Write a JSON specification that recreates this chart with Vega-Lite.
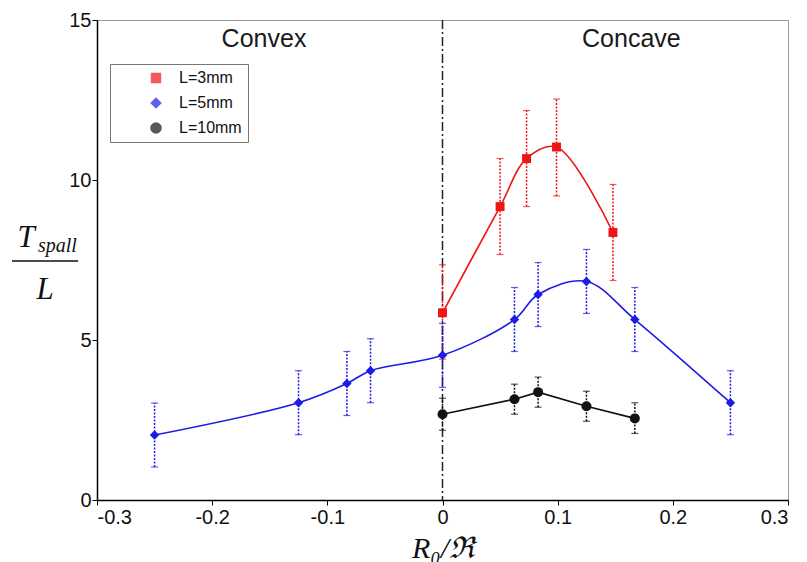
{
  "$schema": "https://vega.github.io/schema/vega-lite/v6.json",
  "width": 691,
  "height": 480,
  "autosize": {"type": "none"},
  "padding": {"left": 97, "top": 20, "right": 19, "bottom": 62},
  "background": "white",
  "config": {
    "view": {"stroke": "#999999", "strokeWidth": 1},
    "axis": {"grid": false}
  },
  "datasets": {
    "series": [
      {"series": "L=3mm", "x": 0, "y": 5.85, "lo": 4.4, "hi": 7.35},
      {"series": "L=3mm", "x": 0.05, "y": 9.17, "lo": 7.67, "hi": 10.67},
      {"series": "L=3mm", "x": 0.073, "y": 10.67, "lo": 9.17, "hi": 12.17},
      {"series": "L=3mm", "x": 0.099, "y": 11.03, "lo": 9.5, "hi": 12.53},
      {"series": "L=3mm", "x": 0.148, "y": 8.36, "lo": 6.86, "hi": 9.86},
      {"series": "L=5mm", "x": -0.25, "y": 2.03, "lo": 1.03, "hi": 3.03},
      {"series": "L=5mm", "x": -0.125, "y": 3.04, "lo": 2.04, "hi": 4.04},
      {"series": "L=5mm", "x": -0.083, "y": 3.64, "lo": 2.64, "hi": 4.64},
      {"series": "L=5mm", "x": -0.0625, "y": 4.04, "lo": 3.04, "hi": 5.04},
      {"series": "L=5mm", "x": 0, "y": 4.52, "lo": 3.52, "hi": 5.52},
      {"series": "L=5mm", "x": 0.0625, "y": 5.64, "lo": 4.64, "hi": 6.64},
      {"series": "L=5mm", "x": 0.083, "y": 6.42, "lo": 5.42, "hi": 7.42},
      {"series": "L=5mm", "x": 0.125, "y": 6.83, "lo": 5.83, "hi": 7.83},
      {"series": "L=5mm", "x": 0.167, "y": 5.64, "lo": 4.64, "hi": 6.64},
      {"series": "L=5mm", "x": 0.25, "y": 3.04, "lo": 2.04, "hi": 4.04},
      {"series": "L=10mm", "x": 0, "y": 2.68, "lo": 2.18, "hi": 3.18},
      {"series": "L=10mm", "x": 0.0625, "y": 3.15, "lo": 2.68, "hi": 3.62},
      {"series": "L=10mm", "x": 0.083, "y": 3.37, "lo": 2.9, "hi": 3.84},
      {"series": "L=10mm", "x": 0.125, "y": 2.93, "lo": 2.46, "hi": 3.4},
      {"series": "L=10mm", "x": 0.167, "y": 2.55, "lo": 2.08, "hi": 3.04}
    ],
    "notes": [
      {"label": "Convex", "x": -0.155, "y": 14.15},
      {"label": "Concave", "x": 0.164, "y": 14.15}
    ],
    "yT": [{"label": "T", "x": -0.3616, "y": 7.906}],
    "ySub": [{"label": "spall", "x": -0.3512, "y": 7.75}],
    "yBar": [{"x": -0.3738, "x2": -0.3164, "y": 7.47}],
    "yL": [{"label": "L", "x": -0.3451, "y": 6.28}],
    "zero": [{"x": 0}]
  },
  "encoding": {
    "x": {
      "field": "x", "type": "quantitative",
      "scale": {"domain": [-0.3, 0.3], "nice": false, "zero": false},
      "axis": {
        "values": [-0.3, -0.2, -0.1, 0, 0.1, 0.2, 0.3],
        "labelExpr": "datum.value == 0 ? '0' : (datum.value < 0 ? '-' + format(-datum.value, '.1f') : format(datum.value, '.1f'))",
        "labelFont": "Liberation Sans", "labelFontSize": 20, "labelColor": "#111111",
        "labelPadding": 2, "tickSize": 5, "tickColor": "#000000", "domainColor": "#000000", "domainWidth": 1.5,
        "title": "R₀/ℜ", "titleFont": "Liberation Serif", "titleFontStyle": "italic", "titleFontWeight": "normal",
        "titleFontSize": 30, "titleColor": "#111111", "titlePadding": 6
      }
    },
    "y": {
      "field": "y", "type": "quantitative",
      "scale": {"domain": [0, 15], "nice": false, "zero": false},
      "axis": {
        "values": [0, 5, 10, 15],
        "labelFont": "Liberation Sans", "labelFontSize": 20, "labelColor": "#111111",
        "labelPadding": 1, "tickSize": 5, "tickColor": "#000000", "domainColor": "#000000", "domainWidth": 1.5,
        "title": null
      }
    }
  },
  "layer": [
    {
      "data": {"name": "zero"},
      "mark": {"type": "rule", "color": "#222222", "strokeWidth": 1.5, "strokeDash": [9, 3, 2, 3]},
      "encoding": {"x": {"field": "x", "type": "quantitative"}, "y": null}
    },
    {
      "data": {"name": "series"},
      "mark": {"type": "rule", "strokeWidth": 1.5, "strokeDash": [2, 1.5]},
      "encoding": {
        "y": {"field": "lo", "type": "quantitative", "title": null},
        "y2": {"field": "hi"},
        "color": {"field": "series", "type": "nominal",
          "scale": {"domain": ["L=3mm", "L=5mm", "L=10mm"], "range": ["#ef1515", "#1c1ce6", "#111111"]}}
      }
    },
    {
      "data": {"name": "series"},
      "mark": {"type": "tick", "orient": "horizontal", "size": 7, "thickness": 1.2},
      "encoding": {
        "y": {"field": "hi", "type": "quantitative", "title": null},
        "color": {"field": "series", "type": "nominal"}
      }
    },
    {
      "data": {"name": "series"},
      "mark": {"type": "tick", "orient": "horizontal", "size": 7, "thickness": 1.2},
      "encoding": {
        "y": {"field": "lo", "type": "quantitative", "title": null},
        "color": {"field": "series", "type": "nominal"}
      }
    },
    {
      "data": {"name": "series"},
      "transform": [{"filter": "datum.series !== 'L=10mm'"}],
      "mark": {"type": "line", "interpolate": "catmull-rom", "strokeWidth": 1.6},
      "encoding": {
        "color": {"field": "series", "type": "nominal"}
      }
    },
    {
      "data": {"name": "series"},
      "transform": [{"filter": "datum.series === 'L=10mm'"}],
      "mark": {"type": "line", "strokeWidth": 1.6},
      "encoding": {
        "color": {"field": "series", "type": "nominal"}
      }
    },
    {
      "data": {"name": "series"},
      "mark": {"type": "point", "filled": true, "opacity": 1},
      "encoding": {
        "color": {"field": "series", "type": "nominal",
          "legend": {
            "orient": "none", "legendX": 13, "legendY": 44, "title": null,
            "padding": 6, "rowPadding": 9, "symbolSize": 100, "symbolOffset": 32, "labelOffset": 15,
            "symbolOpacity": 1,
            "labelFont": "Liberation Sans", "labelFontSize": 16, "labelColor": "#111111",
            "labelExpr": "datum.label + '\u2003'",
            "strokeColor": "#777777", "fillColor": "#ffffff"
          }},
        "shape": {"field": "series", "type": "nominal", "legend": null,
          "scale": {"domain": ["L=3mm", "L=5mm", "L=10mm"], "range": ["square", "diamond", "circle"]}},
        "size": {"field": "series", "type": "nominal", "legend": null,
          "scale": {"domain": ["L=3mm", "L=5mm", "L=10mm"], "range": [80, 100, 60]}}
      }
    },
    {
      "data": {"name": "notes"},
      "mark": {"type": "text", "font": "Liberation Sans", "fontSize": 25, "color": "#1a1a1a", "align": "center", "baseline": "alphabetic"},
      "encoding": {"text": {"field": "label"}}
    },
    {
      "data": {"name": "yT"},
      "mark": {"type": "text", "font": "Liberation Serif", "fontStyle": "italic", "fontSize": 31, "color": "#111111", "align": "center", "baseline": "alphabetic"},
      "encoding": {"text": {"field": "label"}}
    },
    {
      "data": {"name": "ySub"},
      "mark": {"type": "text", "font": "Liberation Serif", "fontStyle": "italic", "fontSize": 20, "color": "#111111", "align": "left", "baseline": "alphabetic"},
      "encoding": {"text": {"field": "label"}}
    },
    {
      "data": {"name": "yBar"},
      "mark": {"type": "rule", "color": "#111111", "strokeWidth": 1.5},
      "encoding": {"x2": {"field": "x2"}}
    },
    {
      "data": {"name": "yL"},
      "mark": {"type": "text", "font": "Liberation Serif", "fontStyle": "italic", "fontSize": 31, "color": "#111111", "align": "center", "baseline": "alphabetic"},
      "encoding": {"text": {"field": "label"}}
    }
  ]
}
